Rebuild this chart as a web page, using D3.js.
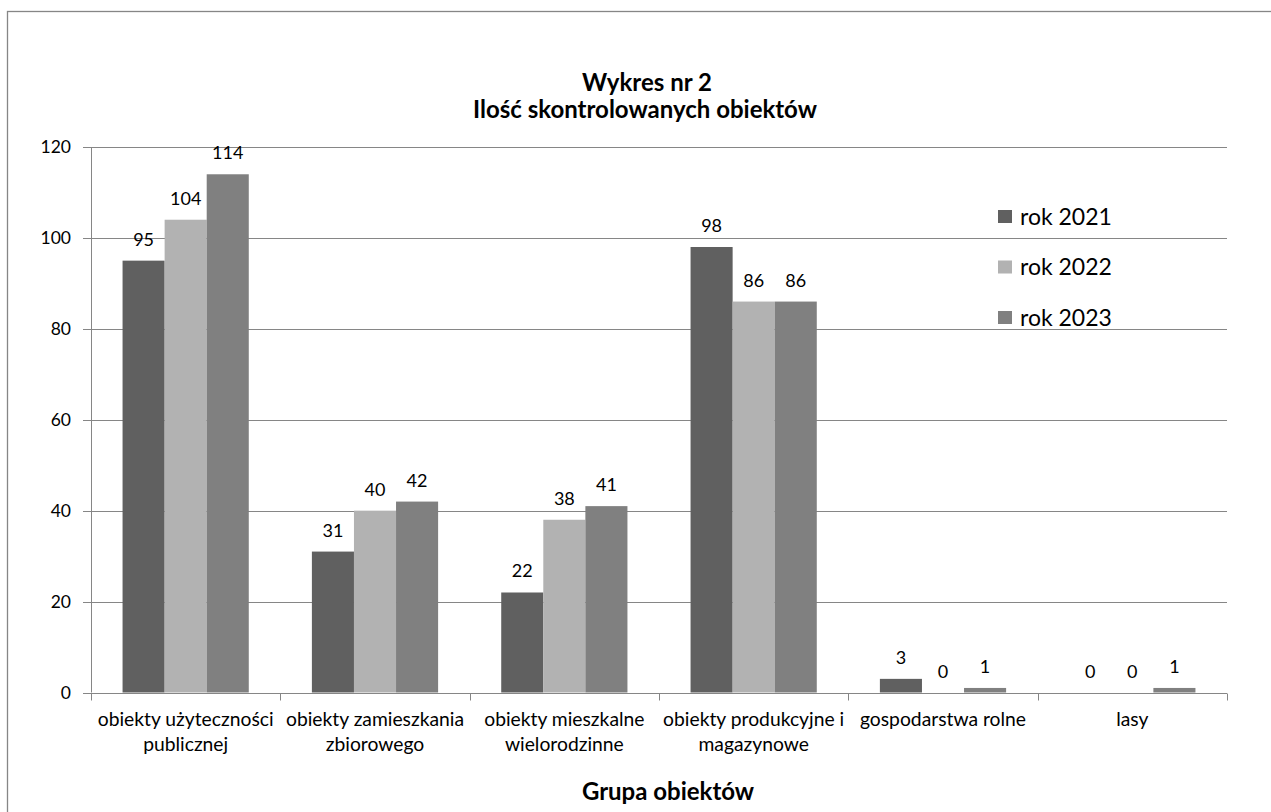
<!DOCTYPE html>
<html>
<head>
<meta charset="utf-8">
<script src="https://cdn.jsdelivr.net/npm/d3@7"></script>
<style>
  body { margin: 0; background: #fff; }
  text { font-family: Lato, "Noto Sans", sans-serif; fill: #000; }
</style>
</head>
<body>
<script>
const w = 1271;
const h = 812;

const categories = [
  "obiekty użyteczności publicznej",
  "obiekty zamieszkania zbiorowego",
  "obiekty mieszkalne wielorodzinne",
  "obiekty produkcyjne i magazynowe",
  "gospodarstwa rolne",
  "lasy"
];
const years = ["rok 2021", "rok 2022", "rok 2023"];
const values2021 = [95, 31, 22, 98, 3, 0];
const values2022 = [104, 40, 38, 86, 0, 0];
const values2023 = [114, 42, 41, 86, 1, 1];
const yTicks = [0, 20, 40, 60, 80, 100, 120];
const colors = ["#606060", "#b2b2b2", "#808080"];

const series = [values2021, values2022, values2023];

const margin = { left: 91, right: 44, top: 147, bottom: 119 };
const gridColor = "#868686";

const svg = d3.select("body").append("svg").attr("width", w).attr("height", h);

// chart frame (runs off the right and bottom edge like the reference)
svg.append("rect")
  .attr("x", 7.5).attr("y", 11.5)
  .attr("width", 1300).attr("height", 900)
  .attr("fill", "#fff").attr("stroke", gridColor).attr("stroke-width", 1.3);

const x = d3.scaleBand().domain(categories).range([margin.left, w - margin.right]);
const xs = d3.scaleBand().domain(years).range([0, x.bandwidth()]).paddingOuter(0.75);
const y = d3.scaleLinear().domain([0, 120]).range([h - margin.bottom - 0.5, margin.top]);

// gridlines
svg.append("g").selectAll("line").data(yTicks).enter().append("line")
  .attr("x1", margin.left - 8)
  .attr("x2", w - margin.right)
  .attr("y1", d => Math.round(y(d)) + 0.5)
  .attr("y2", d => Math.round(y(d)) + 0.5)
  .attr("stroke", gridColor);

// y tick labels
svg.append("g").selectAll("text").data(yTicks).enter().append("text")
  .text(d => d)
  .attr("x", 71)
  .attr("y", d => y(d) + 6)
  .attr("text-anchor", "end")
  .attr("font-size", 17.5);

// y axis line
svg.append("line")
  .attr("x1", margin.left + 0.5).attr("x2", margin.left + 0.5)
  .attr("y1", y(120)).attr("y2", y(0))
  .attr("stroke", gridColor);

// bars
const groups = svg.append("g").selectAll("g").data(categories).enter().append("g")
  .attr("transform", c => `translate(${x(c)},0)`);

groups.selectAll("rect").data((c, i) => years.map((yr, j) => ({ yr, v: series[j][i], j })))
  .enter().append("rect")
  .attr("x", d => xs(d.yr))
  .attr("y", d => y(d.v))
  .attr("width", xs.bandwidth())
  .attr("height", d => y(0) - y(d.v))
  .attr("fill", d => colors[d.j]);

groups.selectAll("text").data((c, i) => years.map((yr, j) => ({ yr, v: series[j][i], j })))
  .enter().append("text")
  .text(d => d.v)
  .attr("x", d => xs(d.yr) + xs.bandwidth() / 2)
  .attr("y", d => y(d.v) - 15)
  .attr("text-anchor", "middle")
  .attr("font-size", 18);

// x axis line + ticks
const baseY = Math.round(y(0)) + 0.5;
svg.append("line")
  .attr("x1", margin.left).attr("x2", w - margin.right)
  .attr("y1", baseY).attr("y2", baseY)
  .attr("stroke", gridColor);

const boundaries = categories.map(c => x(c)).concat([w - margin.right]);
svg.append("g").selectAll("line").data(boundaries).enter().append("line")
  .attr("x1", d => Math.round(d) + 0.5).attr("x2", d => Math.round(d) + 0.5)
  .attr("y1", baseY).attr("y2", baseY + 7)
  .attr("stroke", gridColor);

// category labels, wrapped to band width
function wrap(label, maxW, size) {
  const tmp = svg.append("text").attr("font-size", size);
  const words = label.split(" ");
  const lines = [];
  let line = [];
  words.forEach(wd => {
    line.push(wd);
    tmp.text(line.join(" "));
    if (tmp.node().getComputedTextLength() > maxW && line.length > 1) {
      line.pop();
      lines.push(line.join(" "));
      line = [wd];
    }
  });
  lines.push(line.join(" "));
  tmp.remove();
  return lines;
}

const catSize = 19.3;
const catLabels = svg.append("g").selectAll("text").data(categories).enter().append("text")
  .attr("text-anchor", "middle")
  .attr("font-size", catSize);

catLabels.each(function (c) {
  const lines = wrap(c, x.bandwidth(), catSize);
  d3.select(this).selectAll("tspan").data(lines).enter().append("tspan")
    .attr("x", x(c) + x.bandwidth() / 2)
    .attr("y", (d, i) => 726 + i * 24.5)
    .text(d => d);
});

// titles
svg.append("text").text("Wykres nr 2")
  .attr("x", 647).attr("y", 91)
  .attr("text-anchor", "middle").attr("font-size", 24).attr("font-weight", "bold");
svg.append("text").text("Ilość skontrolowanych obiektów")
  .attr("x", 645).attr("y", 118)
  .attr("text-anchor", "middle").attr("font-size", 24).attr("font-weight", "bold");
svg.append("text").text("Grupa obiektów")
  .attr("x", 668).attr("y", 800)
  .attr("text-anchor", "middle").attr("font-size", 24).attr("font-weight", "bold");

// legend
const legend = svg.append("g").attr("transform", "translate(998,210)");
const li = legend.selectAll("g").data(years).enter().append("g")
  .attr("transform", (d, i) => `translate(0,${i * 50.5})`);
li.append("rect").attr("width", 14).attr("height", 13).attr("fill", (d, i) => colors[i]);
li.append("text").text(d => d).attr("x", 22).attr("y", 14.5).attr("font-size", 23);
</script>
</body>
</html>
